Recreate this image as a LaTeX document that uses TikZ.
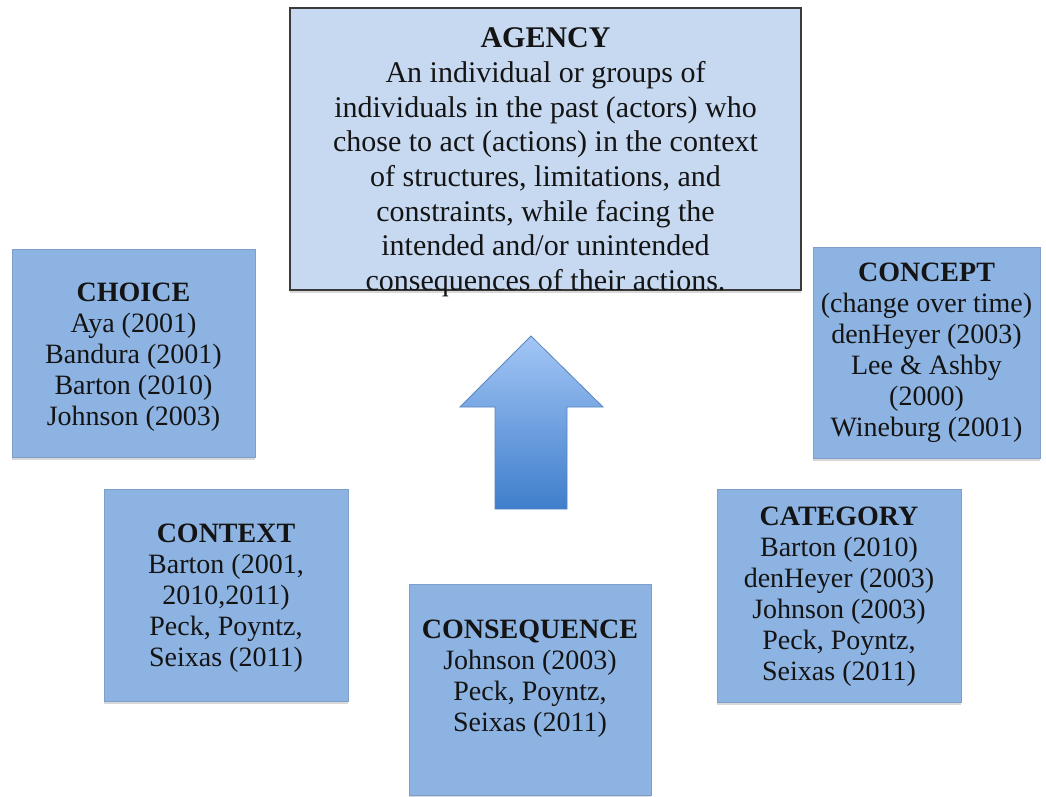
\documentclass[tikz,border=0pt]{standalone}
\usepackage{fontspec}
\setmainfont{Liberation Serif}
\usetikzlibrary{shadows,calc}
\definecolor{agfill}{HTML}{C6D9F1}
\definecolor{boxfill}{HTML}{8DB3E2}
\definecolor{boxline}{HTML}{7F9FCB}
\definecolor{agline}{HTML}{3A3A3A}
\definecolor{arrtop}{HTML}{A3C6F5}
\definecolor{arrbot}{HTML}{3F7ECC}
\definecolor{arrline}{HTML}{5A86BE}
\definecolor{txtcol}{HTML}{141414}
\begin{document}
\begin{tikzpicture}[x=1pt,y=-1pt,
  smallbox/.style={draw=boxline, line width=0.8pt, fill=boxfill, inner sep=0pt,
    drop shadow={opacity=0.3, shadow xshift=0pt, shadow yshift=-2.5pt}},
  agbox/.style={draw=agline, line width=1.3pt, fill=agfill, inner sep=0pt,
    drop shadow={opacity=0.3, shadow xshift=0pt, shadow yshift=-2.5pt},
    minimum width=511pt, minimum height=282pt},
  smalltxt/.style={font=\fontsize{28}{31}\selectfont, align=center, text=txtcol, inner sep=0pt},
  agtxt/.style={font=\fontsize{30}{34.7}\selectfont, align=center, text=txtcol, inner sep=0pt},
  arrowshape/.style={draw=arrline, line width=0.8pt, top color=arrtop, bottom color=arrbot}
]
\useasboundingbox[fill=white] (0,0) rectangle (1046,797);

% boxes
\node[agbox] (agency) at (545.5,149) {};
\node[smallbox, minimum width=243pt, minimum height=208pt] (choice) at (133.5,353) {};
\node[smallbox, minimum width=227pt, minimum height=211pt] (concept) at (926.5,352.5) {};
\node[smallbox, minimum width=244pt, minimum height=212pt] (context) at (226,595) {};
\node[smallbox, minimum width=244pt, minimum height=213pt] (category) at (839,595.5) {};
\node[smallbox, minimum width=242pt, minimum height=211pt] (consequence) at (530,689.5) {};

% texts
\node[agtxt] (agencyt) at (545.5,162.5) {\textbf{AGENCY}\\An individual or groups of\\individuals in the past (actors) who\\chose to act (actions) in the context\\of structures, limitations, and\\constraints, while facing the\\intended and/or unintended\\consequences of their actions.};
\node[smalltxt] (choicet) at (133.5,357) {\textbf{CHOICE}\\Aya (2001)\\Bandura (2001)\\Barton (2010)\\Johnson (2003)};
\node[smalltxt] (conceptt) at (926.5,352.5) {\textbf{CONCEPT}\\(change over time)\\denHeyer (2003)\\Lee \& Ashby\\(2000)\\Wineburg (2001)};
\node[smalltxt] (contextt) at (226,598) {\textbf{CONTEXT}\\Barton (2001,\\2010,2011)\\Peck, Poyntz,\\Seixas (2011)};
\node[smalltxt] (categoryt) at (839,596.5) {\textbf{CATEGORY}\\Barton (2010)\\denHeyer (2003)\\Johnson (2003)\\Peck, Poyntz,\\Seixas (2011)};
\node[smalltxt] (consequencet) at (530,678.5) {\textbf{CONSEQUENCE}\\Johnson (2003)\\Peck, Poyntz,\\Seixas (2011)};

% arrow
\path[arrowshape] (531,336) -- (603,407) -- (567,407) -- (567,509) -- (495,509) -- (495,407) -- (460,407) -- cycle;
\end{tikzpicture}
\end{document}
